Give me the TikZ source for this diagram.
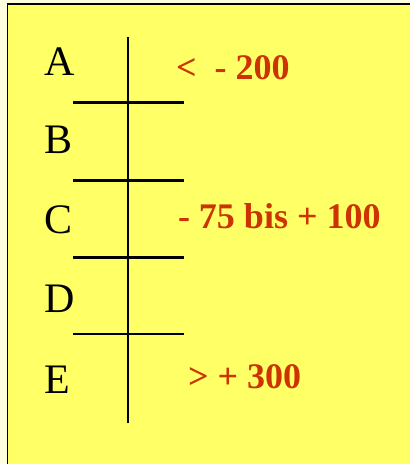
\documentclass[tikz,border=0pt]{standalone}
\usepackage{fontspec}
\setmainfont{Liberation Serif}
\definecolor{cyellow}{HTML}{FFFF66}
\definecolor{ccream}{HTML}{FFFFE0}
\definecolor{cred}{HTML}{CC3300}
\tikzset{
  every picture/.style={line width=2pt},
  letter/.style={anchor=base west, inner sep=0pt, font=\fontsize{42}{46}\selectfont},
  bound/.style={anchor=base west, inner sep=0pt, text=cred, font=\fontsize{36}{40}\selectfont\bfseries},
  rule/.style={draw=black, line width=2.2pt},
}
\begin{document}
\begin{tikzpicture}[x=1pt, y=-1pt]
  \useasboundingbox (0,0) rectangle (410,464);
  \fill[ccream] (0,0) rectangle (410,464);
  \filldraw[fill=cyellow, draw=black, line width=1.5pt] (7.3,4) rectangle (420,475);
  % vertical divider
  \coordinate (top) at (128,37);
  \coordinate (bottom) at (128,423);
  \draw[rule] (top) -- (bottom);
  % row separators
  \foreach \y/\n in {102.5/1, 180.5/2, 257.5/3, 334/4} {
    \coordinate (l\n) at (73,\y);
    \coordinate (r\n) at (184,\y);
    \draw[rule] (l\n) -- (r\n);
  }
  % class letters
  \foreach \t/\y in {A/75, B/153, C/233, D/312, E/393}
    \node[letter] (\t) at (43,\y) {\t};
  % ranges
  \node[bound] (rA) at (175,79) {<~~- 200};
  \node[bound] (rC) at (177,228) {- 75 bis + 100};
  \node[bound] (rE) at (187,388) {> + 300};
\end{tikzpicture}
\end{document}
